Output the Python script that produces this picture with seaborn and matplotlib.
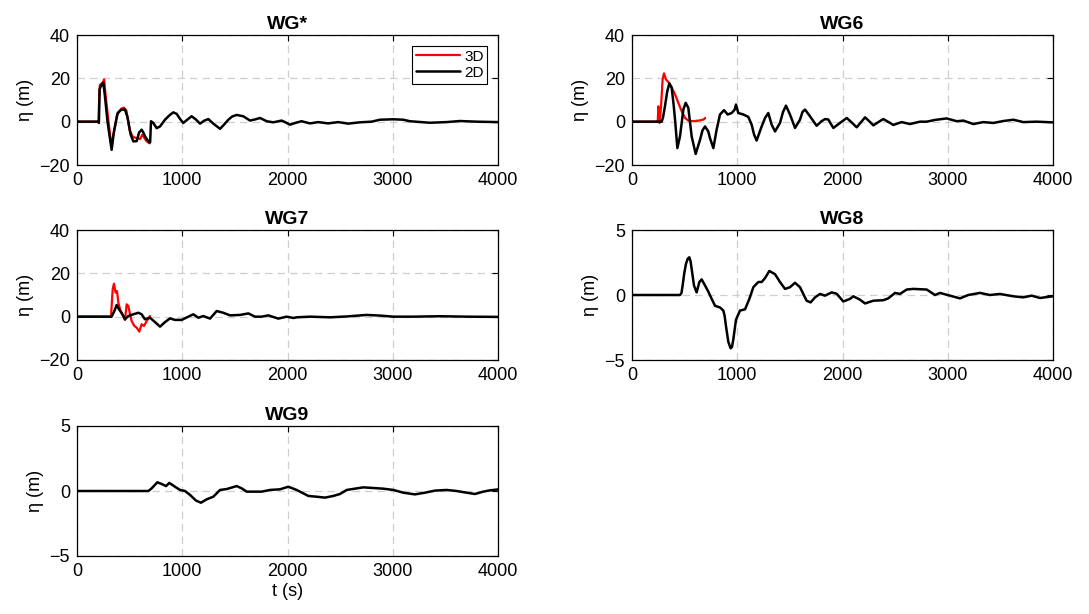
import matplotlib
matplotlib.use("Agg")
import matplotlib.pyplot as plt
import seaborn as sns
import pandas as pd

# ---- wave gauge records: time (s) and surface elevation eta (m) ----
wgs_t_2d = [0, 200, 208, 212, 215, 240, 250, 265, 290, 329, 350, 386, 420, 456, 480, 510, 535, 567, 590, 614,
            630, 646, 670, 687, 695, 703, 725, 757, 789, 836, 880, 915, 947, 980, 1010, 1050, 1089, 1130, 1169,
            1210, 1248, 1270, 1295, 1359, 1400, 1438, 1475, 1517, 1580, 1644, 1690, 1739, 1802, 1865, 1944,
            1985, 2023, 2080, 2134, 2213, 2292, 2387, 2482, 2577, 2688, 2799, 2878, 3005, 3100, 3163, 3353,
            3511, 3638, 3796, 4000]
wgs_e_2d = [0, 0, -0.6, 8, 15, 17.7, 18, 12, 0, -13, -5, 4, 5.5, 5.6, 2, -6, -9.1, -9, -5, -3.7,
            -5, -6.8, -8.5, -9.6, -9.5, 0.2, -0.6, -3, -2.2, 0.9, 3.0, 4.3, 3.6, 1.2, -0.6, 1, 2.5, 1, -0.9,
            0.5, 1.2, 0.2, -0.9, -3.3, -1.2, 0.9, 2.4, 3.1, 2.5, 0.5, 1.0, 1.7, 0.2, -0.3, 0.5,
            -0.4, -1.4, -0.5, 0.2, -0.8, -0.2, -0.8, -0.2, -0.9, -0.3, 0, 0.9, 1.1, 0.9, 0.2, -0.5,
            -0.2, 0.3, 0, -0.2]
wgs_t_3d = [0, 205, 212, 218, 245, 258, 270, 295, 325, 345, 380, 420, 445, 470, 500, 530, 560, 600, 620,
            640, 660, 690]
wgs_e_3d = [0, 0, 14, 17, 18, 19.5, 13, 2, -11, -6, 3, 6, 6.5, 5, -4, -7, -7.5, -8, -6,
            -7.5, -9, -10]

wg6_t_2d = [0, 282, 295, 313, 335, 355, 377, 395, 409, 431, 456, 488, 510, 535, 567, 605, 646, 670, 694,
            725, 741, 773, 804, 836, 874, 909, 947, 975, 988, 1010, 1058, 1105, 1137, 1160, 1184, 1232, 1264,
            1295, 1327, 1359, 1406, 1435, 1463, 1501, 1549, 1596, 1620, 1644, 1691, 1754, 1800, 1834, 1865,
            1913, 1976, 2040, 2088, 2135, 2175, 2214, 2254, 2293, 2340, 2388, 2435, 2483, 2562, 2641, 2736,
            2800, 2879, 2990, 3085, 3148, 3243, 3338, 3433, 3528, 3623, 3718, 3845, 3988, 4000]
wg6_e_2d = [0, 0, 2, 7.1, 14, 17.7, 15.7, 8, 0.9, -12.2, -6.8, 5.6, 8.7, 6.4, -6.8, -14.9, -8.4, -4, -2.2,
            -4.5, -7.6, -12.2, -3.7, 3.3, 5.3, 3.3, 4.0, 5.5, 7.9, 4, 3.3, 2.2, -1.4, -6, -8.7, -2.2, 1.7,
            4, -1.4, -4.5, -0.6, 4.5, 7.4, 3.3, -2.9, 0.9, 4.5, 5.6, 2.5, -1.9, 0.2, 1.2, 1.0,
            -2.9, -0.6, 1.7, -0.4, -2.6, -0.3, 2.0, 0.2, -1.7, -0.2, 1.2, -0.1, -1.5, -0.2, -1.1, 0,
            0, 0.8, 1.5, 0.2, 0.5, -1.1, -0.2, -0.6, 0.3, 0.9, -0.2, 0, -0.3, -0.3]
wg6_t_3d = [0, 245, 250, 262, 275, 291, 304, 323, 345, 377, 409, 440, 472, 504, 535, 583, 646, 680, 695]
wg6_e_3d = [0, 0, 7.1, -0.6, 6.4, 19.5, 22.3, 19.5, 18.3, 15.7, 12.6, 8.7, 4.8, 1.7, 0.5, 0.2, 0.6, 1.0, 1.7]

wg7_t_2d = [0, 329, 355, 377, 399, 424, 456, 488, 535, 583, 614, 646, 694, 741, 789, 836, 884, 931, 994,
            1058, 1105, 1153, 1200, 1264, 1327, 1390, 1454, 1549, 1628, 1691, 1754, 1818, 1913, 1992,
            2055, 2087, 2216, 2405, 2563, 2752, 2879, 3006, 3196, 3449, 3703, 4000]
wg7_e_2d = [0, 0, 2.6, 5.4, 3.4, 1.8, -1.2, 0.3, 1.1, 1.8, 1.1, -1.2, -0.5, -2.5, -4.6, -2.5, -0.8, -1.5, -1.5,
            0, 1.1, -0.5, 0.3, -0.9, 2.6, 1.8, 0.6, 0.8, 1.5, 0, 0, 0.6, -0.9, 0,
            -0.6, -0.3, 0, -0.3, 0.1, 0.8, 0.5, 0, 0, 0.2, 0, -0.1]
wg7_t_3d = [0, 323, 339, 351, 367, 380, 393, 418, 440, 456, 472, 488, 504, 519, 545, 567, 592, 614, 637,
            662, 694]
wg7_e_3d = [0, 0, 12.6, 15.2, 11.1, 11.8, 6.5, 1.8, 0.3, -1.5, 5.7, 4.9, 1.1, -2, -4.3, -5.1, -6.9, -3.5, -4.3,
            -2, 0.3]

wg8_t_2d = [0, 456, 470, 481, 497, 513, 530, 545, 556, 567, 589, 614, 640, 662, 694, 725, 757, 789, 836, 868,
            880, 893, 915, 937, 950, 963, 988, 1026, 1074, 1115, 1153, 1200, 1232, 1264, 1305, 1359, 1406,
            1454, 1501, 1549, 1596, 1659, 1697, 1739, 1786, 1834, 1897, 1944, 2008, 2071, 2103, 2166, 2214,
            2293, 2388, 2435, 2499, 2546, 2610, 2673, 2800, 2879, 2926, 3021, 3116, 3195, 3306, 3401, 3496,
            3623, 3718, 3797, 3876, 4000]
wg8_e_2d = [0, 0, 0.15, 0.73, 1.7, 2.4, 2.8, 2.9, 2.6, 2.0, 0.73, 0.2, 1.0, 1.2, 0.73, 0.26, -0.3, -0.83, -0.96,
            -1.2, -1.6, -2.4, -3.6, -4.1, -4.0, -3.4, -1.9, -1.2, -1.1, -0.3, 0.6, 1.0, 1.0, 1.3, 1.85, 1.6,
            1.0, 0.47, 0.6, 0.94, 0.6, -0.44, -0.57, -0.18, 0.08, -0.05, 0.2, 0.1, -0.5, -0.3, -0.1, -0.36,
            -0.65, -0.44, -0.4, -0.26, 0.16, 0.08, 0.42, 0.47, 0.42, 0, 0.16, -0.05, -0.26, 0, 0.16, 0,
            0.08, -0.1, -0.18, -0.05, -0.23, -0.1]

wg9_t_2d = [0, 678, 709, 763, 804, 846, 877, 931, 979, 1026, 1074, 1131, 1178, 1232, 1295, 1359, 1422, 1517,
            1565, 1612, 1691, 1754, 1834, 1929, 2008, 2087, 2150, 2198, 2277, 2356, 2435, 2499, 2562, 2641,
            2720, 2815, 2910, 3006, 3101, 3211, 3306, 3401, 3512, 3607, 3702, 3781, 3860, 3924, 4000]
wg9_e_2d = [0, 0, 0.2, 0.67, 0.54, 0.38, 0.62, 0.33, 0.08, 0, -0.3, -0.74, -0.9, -0.64, -0.44, 0.08, 0.15, 0.38,
            0.2, -0.05, -0.05, -0.05, 0.08, 0.13, 0.33, 0.08, -0.18, -0.38, -0.44, -0.51, -0.38, -0.23, 0.08, 0.18,
            0.28, 0.23, 0.18, 0.08, -0.13, -0.26, -0.13, 0.03, 0.08, 0, -0.13, -0.23, -0.05, 0.05, 0.12]

x_ticks = [0, 1000, 2000, 3000, 4000]

sns.set_theme(style="white")
plt.rcParams["font.family"] = ["Liberation Sans", "DejaVu Sans"]
plt.rcParams["text.color"] = "black"
plt.rcParams["axes.labelcolor"] = "black"
plt.rcParams["lines.solid_joinstyle"] = "round"

fig = plt.figure(figsize=(10.89, 6.14), dpi=100)

W = 421 / 1089
H = 130 / 614
left_col = 77 / 1089
right_col = 632 / 1089
rows = [1 - 165 / 614, 1 - 360 / 614, 1 - 556 / 614]

panels = [
    ("WG*", (left_col, rows[0]), (-20, 40), [-20, 0, 20, 40], (wgs_t_3d, wgs_e_3d), (wgs_t_2d, wgs_e_2d)),
    ("WG6", (right_col, rows[0]), (-20, 40), [-20, 0, 20, 40], (wg6_t_3d, wg6_e_3d), (wg6_t_2d, wg6_e_2d)),
    ("WG7", (left_col, rows[1]), (-20, 40), [-20, 0, 20, 40], (wg7_t_3d, wg7_e_3d), (wg7_t_2d, wg7_e_2d)),
    ("WG8", (right_col, rows[1]), (-5, 5), [-5, 0, 5], None, (wg8_t_2d, wg8_e_2d)),
    ("WG9", (left_col, rows[2]), (-5, 5), [-5, 0, 5], None, (wg9_t_2d, wg9_e_2d)),
]

for name, (x0, y0), ylim, yticks, s3d, s2d in panels:
    ax = fig.add_axes([x0, y0, W, H])
    if s3d is not None:
        d3 = pd.DataFrame({"t": s3d[0], "eta": s3d[1]})
        sns.lineplot(data=d3, x="t", y="eta", ax=ax, color="#ff0000", linewidth=1.6,
                     estimator=None, sort=False, label="3D")
    d2 = pd.DataFrame({"t": s2d[0], "eta": s2d[1]})
    sns.lineplot(data=d2, x="t", y="eta", ax=ax, color="black", linewidth=1.8,
                 estimator=None, sort=False, label="2D")

    ax.set_xlim(0, 4000)
    ax.set_ylim(*ylim)
    ax.set_xticks(x_ticks)
    ax.set_yticks(yticks)
    ax.grid(True, color="#cfcfcf", linestyle=(0, (6, 4)), linewidth=0.9)
    ax.set_axisbelow(True)
    for sp in ax.spines.values():
        sp.set_visible(True)
        sp.set_color("black")
        sp.set_linewidth(0.9)
    ax.tick_params(direction="in", top=True, right=True, length=4, width=0.8,
                   labelsize=13, colors="black", pad=5)
    ax.set_title(name, fontsize=14, fontweight="bold", pad=4, color="black")
    ax.set_ylabel("η (m)", fontsize=13, labelpad=4)
    ax.set_xlabel("t (s)" if name == "WG9" else "", fontsize=13, labelpad=2)

    if name == "WG*":
        leg = ax.legend(loc="upper right", fontsize=11, frameon=True, fancybox=False,
                        edgecolor="black", handlelength=2.9, borderpad=0.25,
                        labelspacing=0.15, handletextpad=0.25, borderaxespad=0.7)
        leg.get_frame().set_linewidth(0.8)
        leg.get_frame().set_alpha(1)
    else:
        lg = ax.get_legend()
        if lg is not None:
            lg.remove()

fig.savefig("out.png", dpi=100, facecolor="white")
